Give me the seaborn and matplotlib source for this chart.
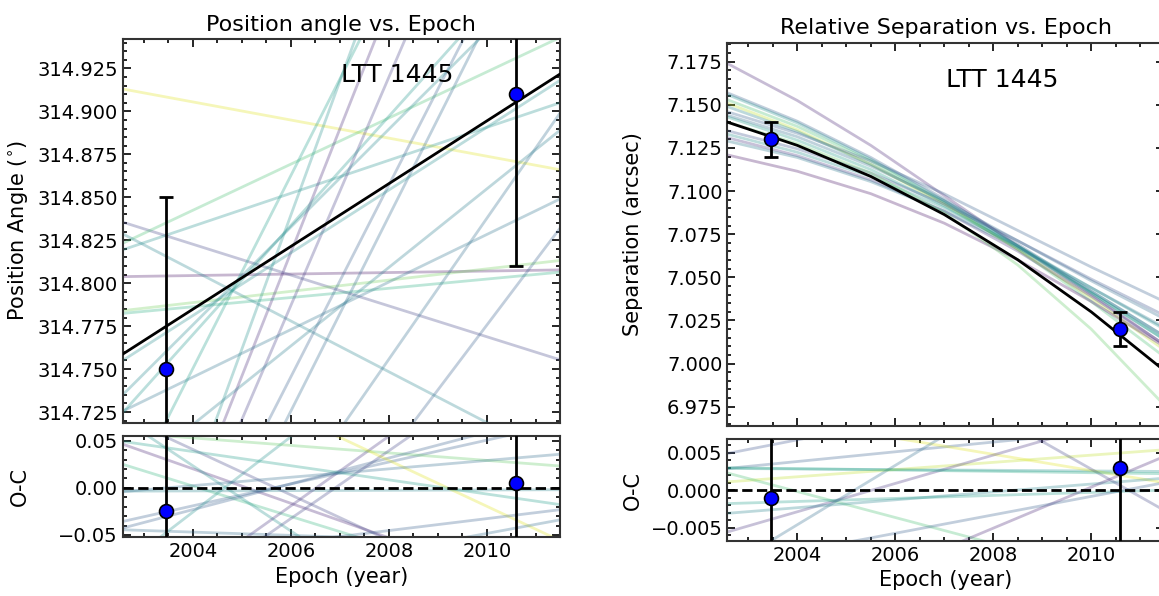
import numpy as np
import pandas as pd
import matplotlib
matplotlib.use("Agg")
import matplotlib.pyplot as plt
import seaborn as sns
from matplotlib.ticker import AutoMinorLocator

# ---- observed astrometry ----
obs_epoch = [2003.46, 2010.59]
obs_pa = [314.75, 314.91]
obs_pa_err = [0.10, 0.10]
obs_sep = [7.13, 7.02]
obs_sep_err = [0.01, 0.01]
oc_pa = [-0.025, 0.005]
oc_sep = [-0.001, 0.003]

# plot range (epochs at the edges of the panels)
edge_epochs = [2002.57, 2011.49]

# ---- best-fit model ----
best_pa = [314.7587, 314.9217]
sep_epochs = [2002.57, 2004.0, 2005.5, 2007.0, 2008.5, 2010.0, 2011.49]
best_sep = [7.140, 7.1265, 7.1085, 7.0864, 7.0602, 7.0300, 6.9960]

# ---- sampled orbits, position angle (values at the panel edges) ----
pa_start = [314.913, 314.8038, 314.8355, 314.8232, 314.8194, 314.784, 314.7824,
            314.8287, 314.572, 314.571, 314.559, 314.554, 314.531, 314.533,
            314.495, 314.685, 314.7255, 314.755, 314.7246, 314.735, 314.670]
pa_end = [314.866, 314.8077, 314.7554, 314.943, 314.905, 314.8132, 314.8064,
          314.6968, 315.268, 315.213, 315.152, 315.052, 315.037, 314.899,
          314.832, 314.889, 314.849, 314.918, 315.008, 314.989, 315.171]
pa_cval = [0.95, 0.05, 0.2, 0.7, 0.5, 0.78, 0.62, 0.45, 0.5, 0.12, 0.18, 0.3,
           0.33, 0.35, 0.3, 0.42, 0.38, 0.48, 0.52, 0.46, 0.55]

# ---- sampled orbits, PA residuals ----
ocpa_start = [0.0464, 0.025, -0.0035, -0.0357, -0.0445, -0.083, 0.073, 0.0753,
              0.0587, -0.146, -0.156, -0.0427, 0.1616, 0.0493, -0.0798, -0.120, -0.004]
ocpa_end = [-0.117, -0.119, -0.002, 0.068, -0.060, 0.274, -0.236, -0.140,
            0.0232, 0.184, 0.165, 0.0795, -0.056, -0.0178, -0.0232, -0.034, 0.0357]
ocpa_cval = [0.1, 0.65, 0.45, 0.3, 0.35, 0.5, 0.5, 0.2, 0.75, 0.15, 0.2, 0.3,
             0.95, 0.55, 0.3, 0.35, 0.35]

# ---- sampled orbits, separation (values at sep_epochs) ----
sep_tracks = [
    [7.174, 7.1525, 7.1265, 7.0974, 7.0682, 7.040, 7.011],
    [7.157, 7.1405, 7.1195, 7.0954, 7.0692, 7.042, 7.016],
    [7.156, 7.1395, 7.1185, 7.0944, 7.0682, 7.041, 7.014],
    [7.153, 7.1375, 7.1175, 7.0934, 7.0662, 7.036, 7.004],
    [7.151, 7.1355, 7.1155, 7.0924, 7.0662, 7.038, 7.008],
    [7.149, 7.1345, 7.1155, 7.0934, 7.0682, 7.042, 7.016],
    [7.144, 7.1315, 7.1145, 7.0944, 7.0712, 7.048, 7.026],
    [7.143, 7.1295, 7.1125, 7.0914, 7.0672, 7.041, 7.014],
    [7.135, 7.1245, 7.1105, 7.0924, 7.0712, 7.049, 7.028],
    [7.133, 7.1225, 7.1085, 7.0904, 7.0682, 7.044, 7.020],
    [7.131, 7.1205, 7.1065, 7.0884, 7.0652, 7.039, 7.011],
    [7.129, 7.1195, 7.1055, 7.0884, 7.0672, 7.044, 7.021],
    [7.121, 7.1115, 7.0985, 7.0814, 7.0602, 7.036, 7.010],
    [7.140, 7.1275, 7.1105, 7.0874, 7.0572, 7.020, 6.976],
    [7.146, 7.1335, 7.1175, 7.0984, 7.0772, 7.056, 7.036],
]
sep_cval = [0.1, 0.3, 0.5, 0.7, 0.9, 0.45, 0.35, 0.55, 0.25, 0.5, 0.15, 0.4,
            0.05, 0.75, 0.3]

# ---- sampled orbits, separation residuals ----
ocsep_start = [0.0029, 0.0029, 0.0011, 0.0107, 0.0023, -0.0056, -0.0031, -0.0018,
               -0.0103, 0.0049, 0.0303, -0.020, -0.0100, 0.0030]
ocsep_end = [0.0087, 0.0025, 0.0054, 0.0010, -0.0132, 0.0113, 0.0016, 0.0000,
             0.0251, 0.0163, -0.0027, 0.0045, 0.0010, 0.0022]
ocsep_cval = [0.3, 0.5, 0.9, 0.95, 0.7, 0.15, 0.45, 0.55, 0.35, 0.25, 0.2, 0.1,
              0.3, 0.6]


def tracks_frame(epochs, rows):
    recs = []
    for i, vals in enumerate(rows):
        for t, v in zip(epochs, vals):
            recs.append({"epoch": t, "value": v, "orbit": i})
    return pd.DataFrame(recs)


def draw_tracks(ax, epochs, rows, cvals):
    df = tracks_frame(epochs, rows)
    pal = [plt.cm.viridis(c) for c in cvals]
    sns.lineplot(data=df, x="epoch", y="value", hue="orbit", palette=pal,
                 estimator=None, sort=False, legend=False, alpha=0.3,
                 linewidth=2, ax=ax)


def draw_points(ax, y, yerr, capsize):
    ax.errorbar(obs_epoch, y, yerr=yerr, fmt="none", ecolor="k", elinewidth=2,
                capsize=capsize, capthick=2, zorder=5)
    sns.scatterplot(x=obs_epoch, y=y, color="blue", edgecolor="k", s=100,
                    linewidth=1.2, zorder=6, ax=ax)


def style(ax, show_x=True):
    ax.xaxis.set_minor_locator(AutoMinorLocator())
    ax.yaxis.set_minor_locator(AutoMinorLocator())
    ax.tick_params(which="both", direction="in", bottom=True, left=True,
                   top=True, right=True, labelsize=14, width=1.2,
                   colors="black")
    ax.tick_params(which="major", length=6)
    ax.tick_params(which="minor", length=3)
    for s in ax.spines.values():
        s.set_linewidth(1.5)
        s.set_color("#333333")
    ax.set_xlim(edge_epochs)
    ax.set_xticks([2004, 2006, 2008, 2010])
    if not show_x:
        ax.tick_params(labelbottom=False)
    ax.set_xlabel("")
    ax.set_ylabel("")


sns.set_style("white")
plt.rcParams["font.family"] = ["DejaVu Sans"]
plt.rcParams["text.color"] = "black"
plt.rcParams["axes.labelcolor"] = "black"

fig = plt.figure(figsize=(11.59, 5.96), dpi=100)
ax_pa = fig.add_axes([0.1059, 0.2908, 0.3773, 0.6438])
ax_pa_oc = fig.add_axes([0.1059, 0.0985, 0.3773, 0.1705])
ax_sep = fig.add_axes([0.6275, 0.2857, 0.3770, 0.6426])
ax_sep_oc = fig.add_axes([0.6275, 0.0923, 0.3770, 0.1706])

# position angle
draw_tracks(ax_pa, edge_epochs, list(zip(pa_start, pa_end)), pa_cval)
ax_pa.plot(edge_epochs, best_pa, color="k", lw=2, zorder=4)
draw_points(ax_pa, obs_pa, obs_pa_err, 5)
style(ax_pa, show_x=False)
ax_pa.set_ylim(314.7188, 314.9421)
ax_pa.set_yticks([314.725, 314.75, 314.775, 314.8, 314.825, 314.85, 314.875, 314.9, 314.925])
ax_pa.set_title("Position angle vs. Epoch", fontsize=16, color="black")
ax_pa.set_ylabel(r"Position Angle ($^{\circ}$)", fontsize=15)
ax_pa.yaxis.set_label_coords(-0.212, 0.5)
ax_pa.text(0.50, 0.906, "LTT 1445", transform=ax_pa.transAxes, fontsize=18,
           ha="left", va="center")

draw_tracks(ax_pa_oc, edge_epochs, list(zip(ocpa_start, ocpa_end)), ocpa_cval)
ax_pa_oc.axhline(0, color="k", ls="--", lw=2, zorder=4)
draw_points(ax_pa_oc, oc_pa, obs_pa_err, 0)
style(ax_pa_oc)
ax_pa_oc.set_ylim(-0.0525, 0.0554)
ax_pa_oc.set_yticks([-0.05, 0.0, 0.05])
ax_pa_oc.set_ylabel("O-C", fontsize=15)
ax_pa_oc.yaxis.set_label_coords(-0.212, 0.5)
ax_pa_oc.set_xlabel("Epoch (year)", fontsize=15)

# separation
draw_tracks(ax_sep, sep_epochs, sep_tracks, sep_cval)
ax_sep.plot(sep_epochs, best_sep, color="k", lw=2, zorder=4)
draw_points(ax_sep, obs_sep, obs_sep_err, 5)
style(ax_sep, show_x=False)
ax_sep.set_ylim(6.964, 7.186)
ax_sep.set_yticks([6.975, 7.0, 7.025, 7.05, 7.075, 7.1, 7.125, 7.15, 7.175])
ax_sep.set_title("Relative Separation vs. Epoch", fontsize=16, color="black")
ax_sep.set_ylabel("Separation (arcsec)", fontsize=15)
ax_sep.yaxis.set_label_coords(-0.193, 0.5)
ax_sep.text(0.50, 0.903, "LTT 1445", transform=ax_sep.transAxes, fontsize=18,
            ha="left", va="center")

draw_tracks(ax_sep_oc, edge_epochs, list(zip(ocsep_start, ocsep_end)), ocsep_cval)
ax_sep_oc.axhline(0, color="k", ls="--", lw=2, zorder=4)
draw_points(ax_sep_oc, oc_sep, obs_sep_err, 0)
style(ax_sep_oc)
ax_sep_oc.set_ylim(-0.0068, 0.0068)
ax_sep_oc.set_yticks([-0.005, 0.0, 0.005])
ax_sep_oc.set_ylabel("O-C", fontsize=15)
ax_sep_oc.yaxis.set_label_coords(-0.193, 0.5)
ax_sep_oc.set_xlabel("Epoch (year)", fontsize=15)

fig.savefig("out.png", dpi=100)
